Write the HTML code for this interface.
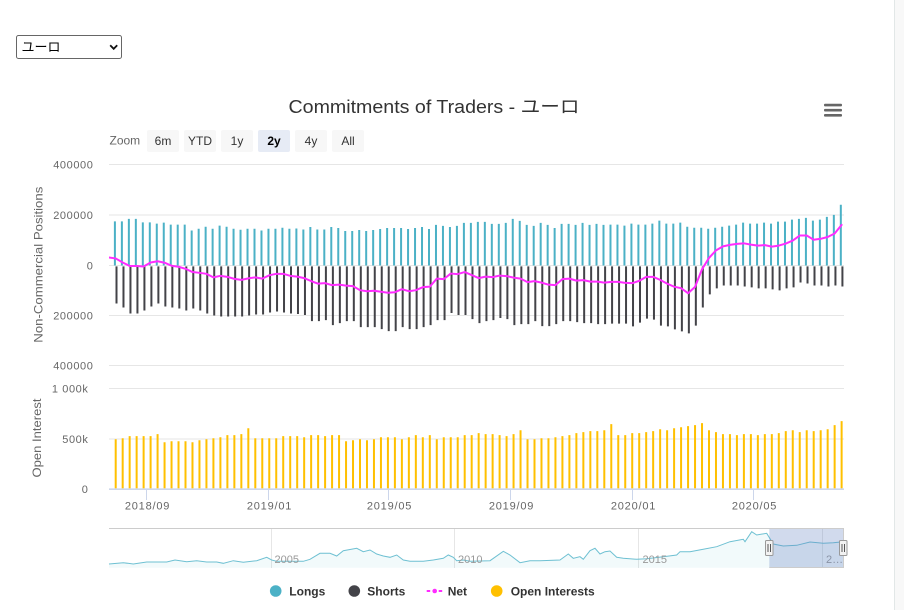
<!DOCTYPE html>
<html>
<head>
<meta charset="utf-8">
<style>
html,body{margin:0;padding:0;background:#fff;width:904px;height:610px;overflow:hidden}
svg text{font-family:"Liberation Sans","Noto Sans CJK JP",sans-serif}
</style>
</head>
<body>
<svg width="904" height="610" viewBox="0 0 904 610" xmlns="http://www.w3.org/2000/svg" style="position:absolute;left:0;top:0">
<defs>
<clipPath id="pc"><rect x="109" y="150" width="735" height="230"/></clipPath>
</defs>

<!-- right strip -->
<rect x="894" y="0" width="10" height="610" fill="#f8f8f8"/>
<line x1="894.5" y1="0" x2="894.5" y2="610" stroke="#e2e7e7"/>

<!-- select -->
<rect x="16.5" y="35.5" width="105" height="23" rx="2" fill="#fff" stroke="#666"/>
<text x="21.5" y="51.5" font-size="13" fill="#000">ユーロ</text>
<path d="M110.2 45.3 L113.7 48.8 L117.2 45.3" fill="none" stroke="#111" stroke-width="1.8"/>

<!-- title -->
<text x="288.5" y="113" font-size="18" fill="#333" textLength="291" lengthAdjust="spacingAndGlyphs">Commitments of Traders - ユーロ</text>

<!-- hamburger -->
<rect x="824" y="103.8" width="18" height="2.6" fill="#666" rx="1"/>
<rect x="824" y="108.9" width="18" height="2.6" fill="#666" rx="1"/>
<rect x="824" y="114" width="18" height="2.6" fill="#666" rx="1"/>

<!-- range selector -->
<text x="109.5" y="144.5" font-size="12" fill="#666">Zoom</text>
<rect x="147" y="130" width="32" height="22" rx="2" fill="#f7f7f7"/>
<text x="163" y="145" font-size="12" fill="#333" text-anchor="middle">6m</text>
<rect x="184" y="130" width="32" height="22" rx="2" fill="#f7f7f7"/>
<text x="200" y="145" font-size="12" fill="#333" text-anchor="middle">YTD</text>
<rect x="221" y="130" width="32" height="22" rx="2" fill="#f7f7f7"/>
<text x="237" y="145" font-size="12" fill="#333" text-anchor="middle">1y</text>
<rect x="258" y="130" width="32" height="22" rx="2" fill="#e6ebf5"/>
<text x="274" y="145" font-size="12" fill="#000" font-weight="bold" text-anchor="middle">2y</text>
<rect x="295" y="130" width="32" height="22" rx="2" fill="#f7f7f7"/>
<text x="311" y="145" font-size="12" fill="#333" text-anchor="middle">4y</text>
<rect x="332" y="130" width="32" height="22" rx="2" fill="#f7f7f7"/>
<text x="348" y="145" font-size="12" fill="#333" text-anchor="middle">All</text>

<!-- grid lines -->
<g stroke="#e6e6e6" stroke-width="1">
<line x1="109" y1="164.5" x2="844" y2="164.5"/>
<line x1="109" y1="215" x2="844" y2="215"/>
<line x1="109" y1="265.5" x2="844" y2="265.5"/>
<line x1="109" y1="315.5" x2="844" y2="315.5"/>
<line x1="109" y1="365.5" x2="844" y2="365.5"/>
<line x1="109" y1="388.5" x2="844" y2="388.5"/>
<line x1="109" y1="439" x2="844" y2="439"/>
</g>

<!-- y labels -->
<g font-size="11" fill="#666" text-anchor="end" letter-spacing="0.6">
<text x="93.5" y="168.5">400000</text>
<text x="93.5" y="219">200000</text>
<text x="93.5" y="269.5">0</text>
<text x="93.5" y="319.5">200000</text>
<text x="93.5" y="369.5">400000</text>
<text x="88.5" y="392.5">1 000k</text>
<text x="88.5" y="443">500k</text>
<text x="88.5" y="493">0</text>
</g>

<!-- axis titles -->
<text transform="translate(42.5,264.7) rotate(-90)" font-size="12" fill="#666" text-anchor="middle" textLength="156" lengthAdjust="spacingAndGlyphs">Non-Commercial Positions</text>
<text transform="translate(41,438) rotate(-90)" font-size="12" fill="#666" text-anchor="middle" textLength="79" lengthAdjust="spacingAndGlyphs">Open Interest</text>

<!-- longs -->
<g transform="translate(114.9,265.5) scale(6.98,-0.252)">
<path fill="none" stroke="#4bb1c6" stroke-width="0.2865" d="M0 0V175M1 0V175M2 0V185M3 0V185M4 0V171M5 0V171M6 0V166M7 0V170M8 0V162M9 0V162M10 0V162M11 0V139M12 0V146M13 0V154M14 0V146M15 0V158M16 0V154M17 0V146M18 0V142M19 0V146M20 0V146M21 0V139M22 0V146M23 0V146M24 0V150M25 0V146M26 0V147M27 0V143M28 0V153M29 0V143M30 0V143M31 0V153M32 0V149M33 0V137M34 0V137M35 0V141M36 0V137M37 0V141M38 0V145M39 0V149M40 0V149M41 0V149M42 0V145M43 0V149M44 0V153M45 0V145M46 0V161M47 0V157M48 0V153M49 0V157M50 0V169M51 0V169M52 0V173M53 0V173M54 0V165M55 0V165M56 0V169M57 0V185M58 0V177M59 0V161M60 0V157M61 0V169M62 0V161M63 0V149M64 0V165M65 0V165M66 0V161M67 0V169M68 0V161M69 0V165M70 0V161M71 0V162M72 0V162M73 0V158M74 0V166M75 0V162M76 0V162M77 0V166M78 0V178M79 0V166M80 0V166M81 0V170M82 0V154M83 0V150M84 0V150M85 0V146M86 0V150M87 0V154M88 0V158M89 0V162M90 0V170M91 0V166M92 0V166M93 0V170M94 0V166M95 0V174M96 0V174M97 0V182M98 0V185M99 0V189M100 0V178M101 0V182M102 0V193M103 0V201M104 0V241"/>
</g>

<!-- shorts -->
<g transform="translate(116.5,266.4) scale(6.98,-0.252)">
<path fill="none" stroke="#434348" stroke-width="0.2865" d="M0 0V-147M1 0V-163M2 0V-187M3 0V-187M4 0V-175M5 0V-159M6 0V-147M7 0V-159M8 0V-163M9 0V-167M10 0V-175M11 0V-167M12 0V-175M13 0V-187M14 0V-195M15 0V-199M16 0V-199M17 0V-199M18 0V-199M19 0V-195M20 0V-191M21 0V-191M22 0V-183M23 0V-179M24 0V-183M25 0V-187M26 0V-189M27 0V-193M28 0V-217M29 0V-217M30 0V-213M31 0V-233M32 0V-225M33 0V-217M34 0V-217M35 0V-241M36 0V-241M37 0V-241M38 0V-249M39 0V-257M40 0V-257M41 0V-241M42 0V-249M43 0V-249M44 0V-241M45 0V-233M46 0V-213M47 0V-213M48 0V-185M49 0V-193M50 0V-193M51 0V-209M52 0V-225M53 0V-217M54 0V-213M55 0V-205M56 0V-209M57 0V-233M58 0V-229M59 0V-229M60 0V-217M61 0V-237M62 0V-237M63 0V-229M64 0V-217M65 0V-217M66 0V-221M67 0V-225M68 0V-225M69 0V-229M70 0V-229M71 0V-227M72 0V-227M73 0V-227M74 0V-238M75 0V-223M76 0V-207M77 0V-211M78 0V-235M79 0V-238M80 0V-250M81 0V-258M82 0V-266M83 0V-235M84 0V-163M85 0V-111M86 0V-87M87 0V-76M88 0V-76M89 0V-76M90 0V-80M91 0V-83M92 0V-87M93 0V-87M94 0V-91M95 0V-95M96 0V-87M97 0V-83M98 0V-64M99 0V-68M100 0V-76M101 0V-76M102 0V-80M103 0V-76M104 0V-80"/>
</g>

<!-- net -->
<g clip-path="url(#pc)">
<g transform="translate(115.7,265.5) scale(6.98,-0.252)">
<path fill="none" stroke="#ff2cff" stroke-width="2" vector-effect="non-scaling-stroke" stroke-linejoin="round" stroke-linecap="round" d="M-1 32 L0 28 L1 12 L2 -2 L3 -2 L4 -4 L5 12 L6 17 L7 11 L8 -1 L9 -5 L10 -13 L11 -26 L12 -29 L13 -33 L14 -47 L15 -41 L16 -45 L17 -53 L18 -57 L19 -51 L20 -47 L21 -52 L22 -39 L23 -33 L24 -33 L25 -41 L26 -44 L27 -50 L28 -62 L29 -72 L30 -70 L31 -78 L32 -76 L33 -80 L34 -82 L35 -98 L36 -102 L37 -100 L38 -104 L39 -108 L40 -106 L41 -94 L42 -102 L43 -98 L44 -86 L45 -84 L46 -52 L47 -54 L48 -32 L49 -34 L50 -26 L51 -38 L52 -50 L53 -44 L54 -46 L55 -40 L56 -42 L57 -48 L58 -52 L59 -66 L60 -62 L61 -68 L62 -76 L63 -78 L64 -54 L65 -52 L66 -60 L67 -58 L68 -64 L69 -64 L70 -68 L71 -65 L72 -65 L73 -69 L74 -70 L75 -61 L76 -45 L77 -45 L78 -57 L79 -72 L80 -84 L81 -90 L82 -110 L83 -85 L84 -15 L85 30 L86 60 L87 76 L88 82 L89 86 L90 88 L91 83 L92 79 L93 81 L94 75 L95 79 L96 87 L97 99 L98 119 L99 119 L100 102 L101 106 L102 113 L103 127 L104 161"/>
</g>
</g>

<!-- open interest -->
<g transform="translate(115.7,488.4) scale(6.98,-0.101)">
<path fill="none" stroke="#ffc000" stroke-width="0.2865" d="M0 0V487M1 0V497M2 0V517M3 0V517M4 0V517M5 0V517M6 0V537M7 0V457M8 0V467M9 0V467M10 0V467M11 0V457M12 0V477M13 0V487M14 0V497M15 0V507M16 0V527M17 0V527M18 0V537M19 0V596M20 0V497M21 0V497M22 0V497M23 0V497M24 0V517M25 0V517M26 0V517M27 0V507M28 0V527M29 0V527M30 0V517M31 0V527M32 0V527M33 0V467M34 0V477M35 0V487M36 0V477M37 0V487M38 0V507M39 0V507M40 0V507M41 0V487M42 0V507M43 0V527M44 0V507M45 0V527M46 0V487M47 0V507M48 0V507M49 0V507M50 0V527M51 0V527M52 0V547M53 0V537M54 0V537M55 0V527M56 0V517M57 0V537M58 0V576M59 0V487M60 0V487M61 0V497M62 0V497M63 0V507M64 0V517M65 0V527M66 0V547M67 0V557M68 0V567M69 0V567M70 0V576M71 0V636M72 0V527M73 0V527M74 0V547M75 0V547M76 0V557M77 0V567M78 0V586M79 0V576M80 0V596M81 0V606M82 0V616M83 0V626M84 0V646M85 0V576M86 0V557M87 0V537M88 0V537M89 0V527M90 0V537M91 0V537M92 0V527M93 0V537M94 0V537M95 0V547M96 0V567M97 0V576M98 0V557M99 0V576M100 0V567M101 0V576M102 0V586M103 0V626M104 0V666"/>
</g>

<!-- x axis -->
<line x1="109" y1="489.2" x2="844" y2="489.2" stroke="#ccd6eb" stroke-width="1.7"/>
<g stroke="#ccd6eb" stroke-width="1">
<line x1="146.5" y1="490" x2="146.5" y2="500"/>
<line x1="268.5" y1="490" x2="268.5" y2="500"/>
<line x1="388.5" y1="490" x2="388.5" y2="500"/>
<line x1="510.5" y1="490" x2="510.5" y2="500"/>
<line x1="632.5" y1="490" x2="632.5" y2="500"/>
<line x1="753.5" y1="490" x2="753.5" y2="500"/>
</g>
<g font-size="11" fill="#666" text-anchor="middle" letter-spacing="0.8">
<text x="147.5" y="509.5">2018/09</text>
<text x="269.5" y="509.5">2019/01</text>
<text x="389.5" y="509.5">2019/05</text>
<text x="511.5" y="509.5">2019/09</text>
<text x="633.5" y="509.5">2020/01</text>
<text x="754.5" y="509.5">2020/05</text>
</g>

<!-- navigator -->
<g stroke="#e6e6e6" stroke-width="1">
<line x1="271.5" y1="528" x2="271.5" y2="568"/>
<line x1="454.5" y1="528" x2="454.5" y2="568"/>
<line x1="638.5" y1="528" x2="638.5" y2="568"/>
<line x1="822.5" y1="528" x2="822.5" y2="568"/>
</g>
<polygon fill="rgba(76,178,199,0.07)" points="109,564 123.3,562.7 133.3,564 146.7,562 166.7,562 175,560 186.7,561.7 196.7,560.7 206.7,562 216.7,562 223.3,563.3 233.3,560.7 243.3,562.3 256.7,560.7 266.7,557.3 271.7,560 276.7,561.3 290,561.3 303.3,561.3 310,559.3 320,553.3 330,553.3 336.7,556 343.3,550.7 356.7,548.3 363.3,551.7 370,550 376.7,554 383.3,556 390,557.3 396.7,555 403.3,560 410,561.3 423.3,561.3 433.3,560 443.3,558.3 448.3,555 453.3,557.3 456.7,560.7 463.3,560 470,561.3 490,560.7 503.3,551.3 510,555 520,562.7 530,560.7 540,560.7 560,560 568.3,554 573.3,558.3 580,556.7 583.3,559.3 590,550.7 595,548.3 600,554 605,551.7 610,551 616.7,557.3 623.3,558.3 636.7,559.3 646.7,558.7 663.3,556.7 676.7,555 680,551.7 690,551.7 703.3,549.3 716.7,546.7 730,541.7 743.3,539.3 745,541.7 751.7,531.7 756.7,535 766.7,533.3 773.3,544 783.3,546 796.7,545.3 810,542 823.3,543.3 833.3,542.7 843,541.7 843,567.7 109,567.7"/>
<polyline fill="none" stroke="#6ec0d2" stroke-width="1" points="109,564 123.3,562.7 133.3,564 146.7,562 166.7,562 175,560 186.7,561.7 196.7,560.7 206.7,562 216.7,562 223.3,563.3 233.3,560.7 243.3,562.3 256.7,560.7 266.7,557.3 271.7,560 276.7,561.3 290,561.3 303.3,561.3 310,559.3 320,553.3 330,553.3 336.7,556 343.3,550.7 356.7,548.3 363.3,551.7 370,550 376.7,554 383.3,556 390,557.3 396.7,555 403.3,560 410,561.3 423.3,561.3 433.3,560 443.3,558.3 448.3,555 453.3,557.3 456.7,560.7 463.3,560 470,561.3 490,560.7 503.3,551.3 510,555 520,562.7 530,560.7 540,560.7 560,560 568.3,554 573.3,558.3 580,556.7 583.3,559.3 590,550.7 595,548.3 600,554 605,551.7 610,551 616.7,557.3 623.3,558.3 636.7,559.3 646.7,558.7 663.3,556.7 676.7,555 680,551.7 690,551.7 703.3,549.3 716.7,546.7 730,541.7 743.3,539.3 745,541.7 751.7,531.7 756.7,535 766.7,533.3 773.3,544 783.3,546 796.7,545.3 810,542 823.3,543.3 833.3,542.7 843,541.7"/>
<g font-size="11" fill="#999">
<text x="274.5" y="563">2005</text>
<text x="458" y="563">2010</text>
<text x="642.5" y="563">2015</text>
<text x="826" y="563">2…</text>
</g>
<rect x="769.3" y="528" width="74" height="40" fill="rgba(102,133,194,0.3)"/>
<line x1="109" y1="528.5" x2="843.5" y2="528.5" stroke="#cccccc"/>
<line x1="769.3" y1="567.5" x2="843.5" y2="567.5" stroke="#cccccc"/>
<line x1="843.5" y1="528" x2="843.5" y2="568" stroke="#cccccc"/>
<rect x="765.5" y="540.5" width="7.5" height="15" rx="1" fill="#f2f2f2" stroke="#999"/>
<line x1="768" y1="544" x2="768" y2="552" stroke="#555"/>
<line x1="770.5" y1="544" x2="770.5" y2="552" stroke="#555"/>
<rect x="839.5" y="540.5" width="7.5" height="15" rx="1" fill="#f2f2f2" stroke="#999"/>
<line x1="842" y1="544" x2="842" y2="552" stroke="#555"/>
<line x1="844.5" y1="544" x2="844.5" y2="552" stroke="#555"/>

<!-- legend -->
<circle cx="275.7" cy="591" r="5.8" fill="#4bb1c6"/>
<text x="289.3" y="595.5" font-size="12" font-weight="bold" fill="#333">Longs</text>
<circle cx="354.3" cy="591" r="5.8" fill="#434348"/>
<text x="367.3" y="595.5" font-size="12" font-weight="bold" fill="#333">Shorts</text>
<line x1="426.7" y1="591" x2="442.7" y2="591" stroke="#ff2cff" stroke-width="2" stroke-dasharray="3.5,2.5"/>
<circle cx="434.7" cy="591" r="2.3" fill="#ff2cff"/>
<text x="447.7" y="595.5" font-size="12" font-weight="bold" fill="#333">Net</text>
<circle cx="496.7" cy="591" r="5.8" fill="#ffc000"/>
<text x="510.7" y="595.5" font-size="12" font-weight="bold" fill="#333">Open Interests</text>
</svg>
</body>
</html>
